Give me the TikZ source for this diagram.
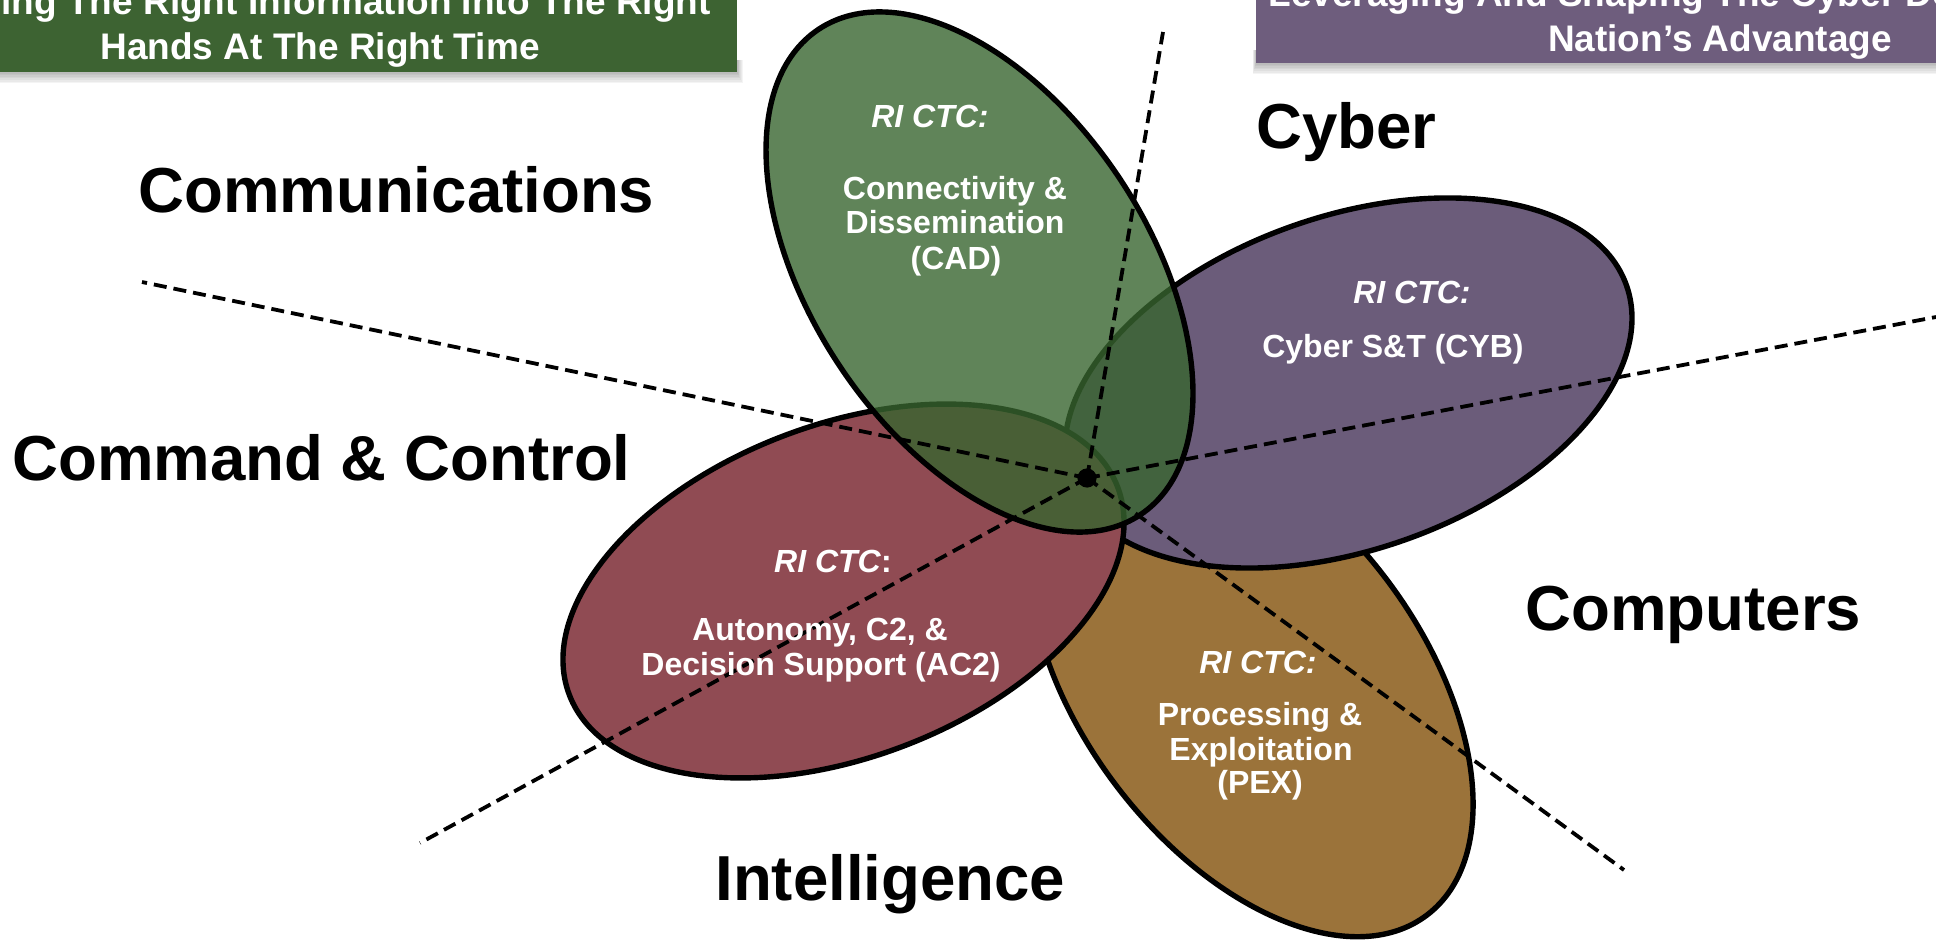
\documentclass[tikz,border=0pt]{standalone}
\usepackage{fontspec}
\setmainfont{Liberation Sans}
\definecolor{gfill}{RGB}{56,101,47}
\definecolor{rfill}{RGB}{144,75,83}
\definecolor{pfill}{RGB}{107,92,122}
\definecolor{bfill}{RGB}{155,115,58}
\definecolor{bgreen}{RGB}{61,99,50}
\definecolor{bpurple}{RGB}{110,93,125}
\begin{document}
\begin{tikzpicture}[x=0.5pt,y=0.5pt,
  ell/.style={draw=black, line width=2.7pt},
  dline/.style={line width=1.9pt, dash pattern=on 6.5pt off 3.5pt},
  lab/.style={font=\fontsize{31.8}{36}\selectfont\bfseries, inner sep=0pt, anchor=base west},
  etxt/.style={font=\fontsize{16}{19}\selectfont\bfseries, text=white, inner sep=0pt, anchor=base},
  btxt/.style={font=\fontsize{18.5}{22}\selectfont\bfseries, text=white, inner sep=0pt}]
\useasboundingbox (0,0) rectangle (1936,-941);
\clip (0,0) rectangle (1936,-941);
% banner shadows
\foreach \i in {1,...,7} {
  \fill[black,opacity=0.045] (-10,-60) rectangle (737+0.8*\i,-72-1.6*\i);
  \fill[black,opacity=0.045] (1256-0.5*\i,-50) rectangle (1946,-63-1.6*\i);
}
% banners
\fill[bgreen] (-10,10) rectangle (737,-72);
\fill[bpurple] (1256,10) rectangle (1946,-63);
\node[btxt, anchor=base east] (g1) at (711,-15) {ing The Right Information Into The Right};
\node[btxt, anchor=base] (g2) at (320,-60) {Hands At The Right Time};
\node[btxt, anchor=base west] (p1) at (1268,-7) {Leveraging And Shaping The Cyber Domain};
\node[btxt, anchor=base] (p2) at (1720,-52) {Nation’s Advantage};
% ellipses
\filldraw[ell, fill=bfill] (1251,-682) ellipse [x radius=146pt, y radius=85pt, rotate=-53];
\filldraw[ell, fill=pfill] (1348.5,-383) ellipse [x radius=147.3pt, y radius=83.35pt, rotate=19.3];
\filldraw[ell, fill=rfill] (843.5,-591) ellipse [x radius=146.6pt, y radius=83.15pt, rotate=20.7];
\filldraw[ell, fill=gfill, fill opacity=0.8] (979.5,-272) ellipse [x radius=145.6pt, y radius=84.25pt, rotate=-56.5];
% dashed spokes
\coordinate (c) at (1087,-478);
\coordinate (ul) at (142,-282);
\coordinate (tp) at (1163,-32);
\coordinate (rt) at (1936,-317);
\coordinate (lr) at (1624,-870);
\coordinate (ll) at (420,-843);
\draw[dline] (c) -- (ul);
\draw[dline] (c) -- (tp);
\draw[dline] (c) -- (rt);
\draw[dline] (c) -- (lr);
\draw[dline] (c) -- (ll);
\fill (c) circle (4.8pt);
% outer labels
\node[lab] (comm) at (138,-213) {Communications};
\node[lab] (cc) at (12,-480) {Command \& Control};
\node[lab] (cyb) at (1256,-149) {Cyber};
\node[lab] (comp) at (1525,-630) {Computers};
\node[lab] (intel) at (715,-900) {Intelligence};
% ellipse texts
\node[etxt] (g0) at (930,-128) {\itshape RI CTC:};
\node[etxt] (ga) at (955,-200) {Connectivity \&};
\node[etxt] (gb) at (955,-234) {Dissemination};
\node[etxt] (gc) at (956,-270) {(CAD)};
\node[etxt] (q0) at (1412,-303) {\itshape RI CTC:};
\node[etxt] (qa) at (1393,-357) {Cyber S\&T (CYB)};
\node[etxt] (r0) at (833,-572) {\textit{RI CTC}:};
\node[etxt] (ra) at (820,-640) {Autonomy, C2, \&};
\node[etxt] (rb) at (821,-675) {Decision Support (AC2)};
\node[etxt] (b0) at (1258,-673) {\itshape RI CTC:};
\node[etxt] (ba) at (1260,-725) {Processing \&};
\node[etxt] (bb) at (1261,-760) {Exploitation};
\node[etxt] (bc) at (1260,-793) {(PEX)};
\end{tikzpicture}
\end{document}
